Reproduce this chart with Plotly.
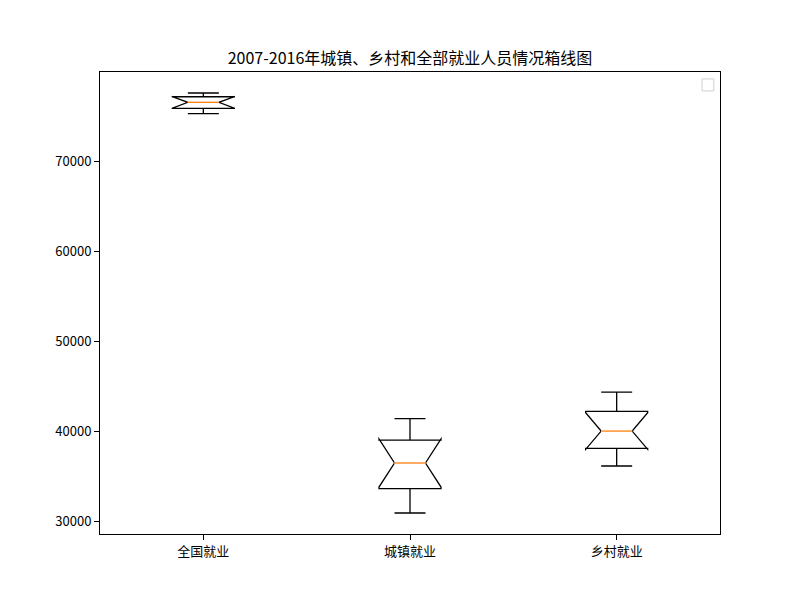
import numpy as np
import plotly.graph_objects as go

years = list(range(2007, 2017))
categories = ["全国就业", "城镇就业", "乡村就业"]
total = [75321, 75564, 75828, 76105, 76420, 76704, 76977, 77253, 77451, 77603]
urban = [30953, 32103, 33322, 34687, 35914, 37102, 38240, 39310, 40410, 41428]
rural = [44368, 43461, 42506, 41418, 40506, 39602, 38737, 37943, 37041, 36175]
series = [total, urban, rural]
title = "2007-2016年城镇、乡村和全部就业人员情况箱线图"

FONT = "Noto Sans CJK SC, SimHei, sans-serif"
BOX_W = 0.3

fig = go.Figure()
for i, vals in enumerate(series):
    pos = i + 1
    a = np.array(vals, dtype=float)
    q1, med, q3 = np.percentile(a, [25, 50, 75])
    iqr = q3 - q1
    lo_w = a[a >= q1 - 1.5 * iqr].min()
    hi_w = a[a <= q3 + 1.5 * iqr].max()
    notch = 1.57 * iqr / np.sqrt(len(a))
    fig.add_trace(go.Box(
        x=[pos], q1=[q1], median=[med], q3=[q3],
        lowerfence=[lo_w], upperfence=[hi_w], notchspan=[notch],
        name=categories[i],
        notched=True, notchwidth=0.25, whiskerwidth=0.5, width=BOX_W,
        line=dict(color="black", width=1.3), fillcolor="rgba(255,255,255,0)",
        showlegend=False, hoverinfo="skip",
    ))
    half = BOX_W * 0.25
    fig.add_trace(go.Scatter(
        x=[pos - half, pos + half], y=[med, med], mode="lines",
        line=dict(color="white", width=2.5), showlegend=False, hoverinfo="skip",
    ))
    fig.add_trace(go.Scatter(
        x=[pos - half, pos + half], y=[med, med], mode="lines",
        line=dict(color="#ff7f0e", width=1.3), showlegend=False, hoverinfo="skip",
    ))

allv = np.concatenate([np.array(s) for s in series])
lo, hi = allv.min(), allv.max()
pad = (hi - lo) * 0.05

fig.update_layout(
    width=800, height=600,
    margin=dict(l=100, r=80, t=72, b=66),
    paper_bgcolor="white", plot_bgcolor="white",
    font=dict(family=FONT, size=13, color="black"),
    title=dict(text=title, x=0.5, xref="paper", xanchor="center",
               y=1 - 58 / 600, yanchor="middle",
               font=dict(family=FONT, size=16, color="black")),
    shapes=[dict(type="rect", xref="paper", yref="paper",
                 x0=0.971, x1=0.990, y0=0.959, y1=0.985,
                 line=dict(color="#d0d0d0", width=1))],
)
fig.update_xaxes(
    range=[0.5, 3.5], tickvals=[1, 2, 3], ticktext=categories,
    showline=True, mirror=True, linecolor="black", linewidth=1,
    ticks="outside", ticklen=5, tickcolor="black", showgrid=False, zeroline=False,
    tickfont=dict(family=FONT, size=13, color="black"),
)
fig.update_yaxes(
    range=[lo - pad, hi + pad], tick0=0, dtick=10000, tickformat="d",
    showline=True, mirror=True, linecolor="black", linewidth=1,
    ticks="outside", ticklen=5, tickcolor="black", showgrid=False, zeroline=False,
    tickfont=dict(family=FONT, size=13, color="black"),
)
fig.write_html("out.html")
